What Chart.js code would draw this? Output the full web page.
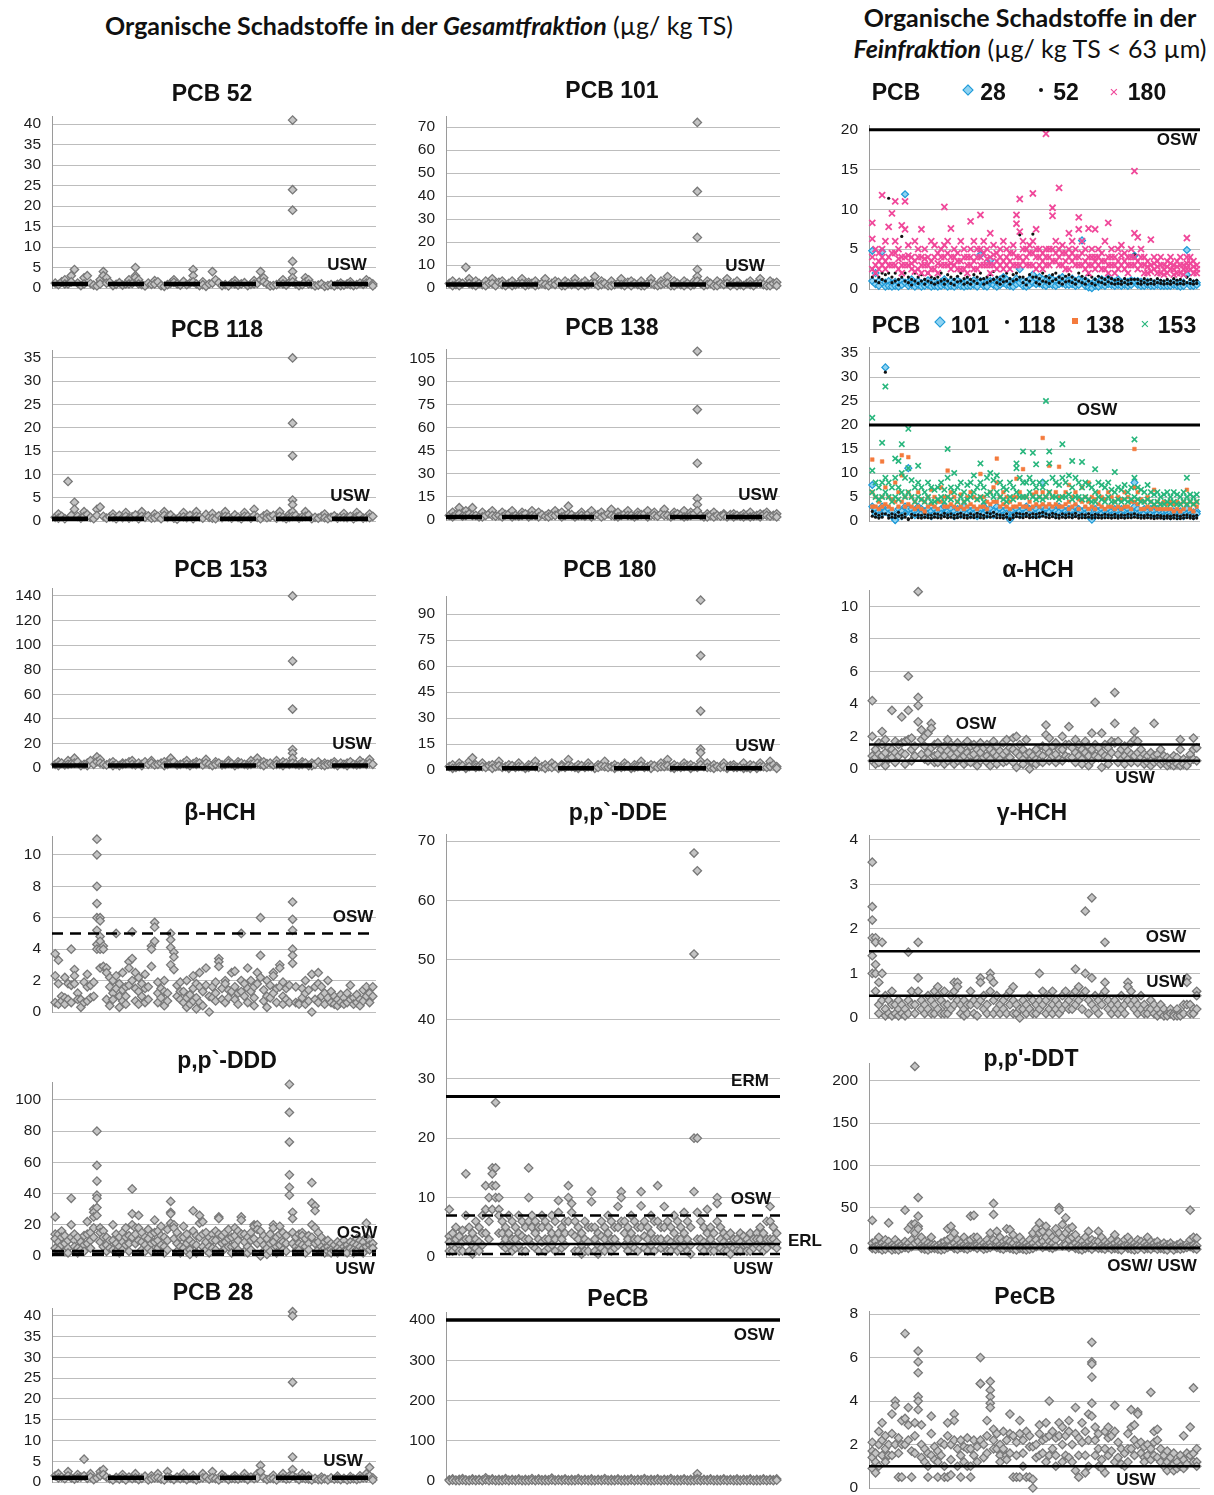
<!DOCTYPE html>
<html><head><meta charset="utf-8">
<script src="https://cdn.jsdelivr.net/npm/chart.js@4.4.1/dist/chart.umd.min.js"></script>
<style>
body{margin:0;background:#fff;width:1214px;height:1495px;overflow:hidden;position:relative;font-family:"Liberation Sans",Arial,sans-serif;color:#111}
.t{position:absolute;transform:translate(-50%,-50%);font-weight:bold;font-size:23px;white-space:nowrap;z-index:2}
.h{position:absolute;transform:translate(-50%,-50%);font-family:Lato,"Open Sans",sans-serif;font-size:25px;white-space:nowrap;z-index:2}
.h b{font-weight:700}
canvas{position:absolute;z-index:1}
.mk{position:absolute;z-index:2}
</style></head><body>

<div class="h" style="left:419px;top:25px"><b>Organische Schadstoffe in der <i>Gesamtfraktion</i></b> (µg/ kg TS)</div>
<div class="h" style="left:1030px;top:17px"><b>Organische Schadstoffe in der</b></div>
<div class="h" style="left:1030px;top:48px"><b><i>Feinfraktion</i></b> (µg/ kg TS &lt; 63 µm)</div>

<script>
// ---------- DATA (one entry per station; arrays = several samples at the same station) ----------
const pcb52Gesamt = [
1.2,0.8,1.5,[2,1],1.0,[3,1.5],4.5,1.2,0.6,[2.5,1],
3.0,1.1,0.7,0.5,[2,1],[4,3],[2.5,1.2],1.4,0.6,0.9,
1.3,0.7,1.0,[2,1],1.1,[5,3,2.5],[2,1],0.8,0.5,1.2,
0.9,[1.8,1],1.5,0.6,0.4,0.8,1.2,[2,1.4],1.0,0.7,
1.6,0.8,1.2,[4.5,3,1.5],1.0,0.6,[1.5,0.8],0.4,1.0,[4,1.2],
2.0,1.3,0.6,0.8,0.5,1.2,[1.8,1],0.7,1.0,1.3,
0.6,0.9,[1.8,1],1.1,[4,2],[2.5,1.5],1.0,0.5,0.6,0.8,
1.2,[2,1],0.7,1.3,[41,24,19,6.5,4,2.5,1.5],1.0,0.6,0.8,[2.5,1.5],[2,1],
0.9,0.5,0.7,1.0,0.4,0.6,0.8,0.5,0.9,[1.2,0.6],
0.7,1.0,[1.5,0.8],0.6,0.8,1.2,0.9,[2,1.2],1.5,[1,0.5]];

const pcb118Gesamt = [
0.8,[1.5,0.6],1.0,0.5,8.5,1.2,[4,2.5],1.0,0.6,[2,1],
1.4,0.8,0.5,[2.5,1.2],3.0,1.0,0.6,0.9,[1.5,0.8],0.5,
1.2,0.7,[1.8,1],0.6,0.9,1.3,0.5,[2,1],0.8,1.1,
0.6,[1.5,0.7],1.0,0.5,[2,1.2],0.8,1.3,0.6,0.4,1.0,
[1.8,0.9],0.7,1.2,0.5,[2,1],0.9,0.6,1.4,0.8,[1.6,0.6],
0.5,1.1,0.7,[2,1],0.9,0.6,1.3,0.8,0.5,[1.8,1],
1.0,0.6,[2.5,1.2],0.8,0.5,1.1,[1.5,0.7],0.9,1.2,0.6,
[2,1],0.8,0.5,[1.5,0.8],[35,21,14,4.5,3.5,2,1],1.2,0.6,0.9,[2,1],1.3,
0.5,0.8,0.6,1.0,[1.5,0.7],0.5,0.8,1.1,0.6,0.9,
[1.6,0.8],0.7,1.0,0.5,[1.8,0.9],1.2,0.6,0.8,[1.5,0.7],1.0];

const pcb153Gesamt = [
3,[5,2],4,2.5,[6,3],3.5,[8,4],5,2,3,
[4,2],6,3,[9,5],[7,4],3,2.5,4,[5,2],3,
2,[4,3],3.5,5,[6,3],2.5,4,[3,2],5,3,
[6,4],2.5,3,4,[5,2],3,[8,4],5,2.5,3,
4,[6,3],2,3.5,[5,3],4,2.5,[7,4],3,2,
[5,3],4,2.5,3,[6,4],3.5,2,[5,3],4,3,
2.5,[6,3],4,[8,4],3,[5,2],3.5,4,2.5,[6,3],
3,[5,2],4,3,[140,87,48,15,12,8,4],3,2.5,[5,3],4,2,
[4,2],3,5,2.5,[4,2],3,3.5,[5,3],2,4,
3,[4,2],5,3,2.5,[6,3],4,3,[7,4],3];

const betaHCH = [
[3.7,2.3,0.6],[3.3,1.8,0.5],[1.0,0.7],[2.2,0.9,0.5],[1.8,0.8],[4.0,1.7,0.6],[2.7,2.3,1.8],[1.2,0.8],[0.8,0.3],[1.9,0.6],
[2.4,1.6,0.7],[1.7,0.9],[1.9,1.0],[11,10,8,6.9,6,5.2,4.3,4],[6,5.8,4.8,4.5,4.0,2.8],[4.2,4.0,2.9],[2.8,2.5,0.8],[2.2,1.6,0.4],[2.0,1.2,0.8],[5.0,2.3,1.5],
[1.8,1.0,0.3],[2.5,1.4,0.7],[1.6,1.0,0.5],[3.2,2.8,1.7],[5.1,3.4,2.0],[2.5,1.5,0.7],[2.2,1.3,0.5],[1.8,1.0],[2.4,1.5,0.6],[1.6,0.8],
[4.2,4.0,2.9],[5.7,5.4,4.5],[1.9,1.2,0.6],[1.5,0.9],[2.0,1.3,0.4],[1.2,0.7],[5.0,4.6,4.1,3.0],[3.8,3.5,2.7],[1.7,1.0],[1.9,1.3,0.8],
[1.3,0.6],[2.0,0.9,0.3],[1.1,0.5],[2.3,1.5,0.7],[1.8,0.9,0.2],[2.5,1.6,0.6],[1.3,0.4],[2.8,1.7],[1.0,0.0],[1.6,0.9],
[1.9,1.2,0.7],[3.4,3.2,2.9],[1.5,0.8],[2.0,1.8,0.6],[1.4,0.9],[2.5,1.3],[2.6,1.6,0.8],[1.2,0.5],[5.0,2.0,1.3],[1.8,1.0],
[2.8,1.5,0.6],[2.0,1.3],[1.6,0.9,0.4],[2.5,1.8],[6.0,3.6,2.2],[1.4,0.7],[2.0,1.0,0.3],[1.7,0.9],[2.5,2.3,1.2],[1.5,0.6],
[3.0,2.8,1.6],[1.9,1.0,0.5],[1.5,0.8],[1.7,0.6],[7.0,5.9,5.2,4.0,3.6,3.1],[1.6,0.6],[0.6,0.5],[1.5,0.9],[2.0,1.2,0.5],[1.4,0.7],
[2.4,0.0],[1.6,0.8],[2.5,1.8,0.6],[1.6,1.0],[1.2,0.5],[2.0,0.9],[1.3,0.6],[1.0,0.5],[0.8,0.4],[1.1,0.6],
[0.9,0.5],[1.2,0.6],[1.7,0.8],[0.9,0.5],[1.1,0.6],[0.8,0.4],[1.4,0.7],[1.6,1.0],[1.2,0.6],[1.6,1.0]];

const ppDDD = [
[25,14,11,5],[14,9,4],[16,12,7],[13,8,3],[10,5,2],[37,20,12],[14,10,6],[12,5,2],[9,4],[13,7,3],
[22,14,8],[15,10,5],[30,28,25,18,12],[80,58,48,39,37,31,26],[18,15,9],[16,12,6],[12,7,3],[10,5],[20,10,4],[14,8,3],
[12,6,2],[15,9,4],[18,12,7],[13,8,3],[43,27,20,12],[18,14,8],[26,18,10],[15,9,4],[12,7,3],[17,11,5],
[14,8,3],[23,15,9],[16,10,5],[19,13,7],[12,6,2],[17,10,4],[35,28,27,21],[20,18,11],[15,8,3],[12,6,2],
[19,12,5],[14,8,3],[10,4,1],[29,16,8],[13,7,2],[26,21,12],[22,14,6],[15,9,4],[12,6,2],[14,10,5],
[16,10,4],[25,24,14],[13,8,3],[15,9,5],[17,11,6],[12,6,2],[18,13,7],[16,10,4],[25,23,14],[14,9,3],
[12,6,2],[15,10,4],[20,19,11],[20,17,8],[16,10,0],[13,7,3],[11,5,1],[14,8,3],[20,18,9],[12,6,2],
[19,14,7],[15,9,4],[13,8,3],[110,92,73,52,44,39],[28,24,15,8],[12,6,3],[14,8,4],[15,13,7],[11,6,2],[13,8,4],
[47,34,20,12],[32,29,18,8],[15,9,4],[12,6,3],[9,5,2],[10,6,3],[8,4,2],[7,3],[9,5,2],[8,4],
[10,6,3],[7,4,2],[9,5],[8,4,2],[11,7,3],[10,6],[9,5,2],[21,12,6],[10,7,4],[8,5]];

const pcb28Gesamt = [
1.5,[2,1],1.2,0.8,[2.5,1.5],1.0,0.7,[1.8,1],1.2,[5.5,1.5],
0.9,[2,1.2],0.6,1.0,[2.5,1.5],[3,1.8],1.2,0.8,0.5,1.1,
0.7,[1.8,1],0.5,1.2,0.8,[2,1],0.6,0.9,1.4,0.5,
[1.5,0.8],1.0,[2,1],0.7,0.5,[2.5,1.2],0.9,0.6,1.2,0.8,
[2,1],0.6,1.0,[1.6,0.8],0.5,0.9,[2,1],1.2,0.7,[2.5,1],
0.8,0.5,[1.8,1],1.1,0.6,0.9,[1.5,0.8],0.7,1.0,[2,1],
0.6,1.2,0.8,[2,1],[4,2.5],1.0,0.6,0.9,[1.6,0.8],0.5,
1.1,[2,1],0.7,[1.5,0.8],[41,40,24,6,3,1.5],1.0,0.6,[2,1],0.8,[1.5,0.7],
0.5,0.9,0.6,[1.2,0.6],0.8,0.5,1.0,0.7,[1.4,0.8],0.6,
0.9,0.5,[1.3,0.7],0.8,0.6,[1.5,0.8],1.0,[2,1],[3.5,1.5],[1,0.5]];

const pcb101Gesamt = [
2,[3,1],1.5,[2.5,1],2,9,[4,2],1.5,[3,1],2,
1.5,[3,1],2,[4,2],1,2.5,[3,1.5],1,2,[3,1],
1.5,2,[4,2],1,[2.5,1.5],2,[3,1],1.5,2,[4,1.5],
1,2,[3,1.5],2.5,1,[3,1],2,1.5,[4,2],1,
2,[3,1],1.5,2,[5,2],1,[3,1.5],2,1,[3,1],
1.5,2,[4,1.5],1,2.5,[3,1],2,1.5,[3,1],1,
2,[4,2],1.5,1,[3,1.5],2,[5,2],1,[3,1],2,
1.5,[3,1],2,1,[3,1.5],[72,42,22,8,5,3],2,1,[3,1.5],2,
1,[3,1],2,1.5,[4,2],1,2,[3,1],1.5,1,
2,[3,1.5],1,2,[4,2],1.5,1,[3,1],2,[2.5,1]];

const pcb138Gesamt = [
3,[5,2],3.5,[8,4],2.5,[6,3],4,[8,3],3,2,
[5,2],3,4,[6,3],2.5,3,[5,2],3.5,4,[6,2],
3,2.5,[5,3],4,2,[6,3],3,[5,2],3.5,2.5,
[4,2],3,[6,3],4,[5,2],3,[9,4],3.5,2,3,
[5,3],2.5,4,[6,2],3,3.5,[5,2],3,4,[7,3],
2.5,[5,2],3,4,[6,3],3,2,[5,3],3.5,4,
[6,2],3,[5,3],2.5,4,[7,3],3,2,[5,3],4,
3,[6,2],2.5,[5,3],4,[110,72,37,14,10,6],3,2,[4,2],3,
[5,2],3,2.5,[4,3],2,3.5,[4,2],3,2.5,[4,2],
3,[5,2],2.5,3,[4,2],3.5,[5,3],2.5,3,[4,2]];

const pcb180Gesamt = [
2,[3,1],1.5,[4,2],2.5,1,[5,2],7,[3,1.5],2,
[4,2],1.5,2.5,[3,1],2,[5,2.5],1.5,2,[3,1],2.5,
1.5,[4,2],2,1,[3,1.5],2.5,[5,2],1.5,2,[3,1],
2,[4,1.5],2.5,1,[3,2],1.5,[6,2.5],2,1.5,[3,1],
2.5,1.5,[4,2],2,1,[3,1.5],2.5,[5,2],1.5,2,
[3,1],2,1.5,[4,2],2.5,1,[3,1.5],2,[5,2.5],1.5,
2,[3,1],2.5,1.5,[4,2],2,[6,2.5],1.5,[3,1],2,
1.5,[4,2],2.5,[3,1],2,1.5,[98,66,34,12,10,5,3],2,[4,1.5],1.5,
[3,1],2,1.5,[4,2],1,2.5,[3,1.5],1.5,2,[4,1],
1.5,[3,1],2.5,1,[4,2],2,1.5,[5,2],3,[2,1]];

const ppDDE = [
[8,3.5,2.5,1],[4,2,1],[5,3,1.5],[3.5,2,1],[4.5,2.5,1],[14,7,3],[5,3,1],[4,2,0.5],[6,3,1.5],[5,2.5,1],
[7,4,2],[12,8,4],[10,6,3],[15,14,12,8],[26,15,12,10],[10,8,7,4],[6,4,2],[5,3,1.5],[7,4,2],[6,3,1],
[5,3,1.5],[7,4,2],[6,3.5,1],[5,3,1],[15,10,6,3],[7,5,2],[6,4,1.5],[5,3,1],[7,5,2.5],[6,3,1],
[5,3,1.5],[7,4,2],[6,3,1],[9.5,7.5,4],[5,3,1.5],[6,4,2],[12,10,6],[9,7.5,4],[6,3.5,1],[5,3,1],
[4,2,0.5],[6,3,1],[5,2.5,1],[11,9.3,5],[5,3,1],[4,2,0.5],[6,3.5,1.5],[5,3,1],[7,4,2],[6,3,1],
[5,3,1.5],[8.5,5,2],[11,10,6],[6,4,2],[5,3,1],[7,4,2],[6,3,1.5],[5,3,1],[11,8.6,5],[6,3.5,1.5],
[5,3,1],[7,4,2],[6,3,1],[12,6,3],[5,3,1.5],[8.5,5,2],[6,3,1],[5,2.5,1],[7,4,2],[6,3,1],
[5,3,1.5],[7.5,4,2],[6,3,1],[5,2,0.5],[68,51,20,11],[65,20,7.5,3],[6,3,1.5],[5,2.5,1],[8,4,2],[5,3,1],
[4,2,1],[10,9,6],[5,3,1.5],[4,2.5,1],[3.5,2,1],[4,2,0.5],[3,1.5],[3,2,1],[4,2.5,1],[3.5,2],
[3,2,1],[4,2.5,1],[3,1.5],[4,3,2],[5,3,1.5],[4,2,1],[6,3,1.5],[8.5,6,3],[5,3,2],[4,2.5,1.5]];

const pecbGesamt = [
[3,1],[5,2],[2,1],[4,1],[6,2],[3,1],[2,1],[5,2],[3,1],[4,2],
[2,1],[8,3],[3,1],[5,2],[2,1],[4,1],[3,1],[6,2],[2,1],[4,2],
[3,1],[5,2],[2,1],[4,1],[3,1],[6,2],[2,1],[5,2],[3,1],[4,1],
[3,1],[7,2],[2,1],[4,2],[3,1],[5,2],[2,1],[4,1],[3,1],[6,2],
[2,1],[4,2],[3,1],[5,1],[2,1],[4,2],[3,1],[6,2],[2,1],[4,1],
[3,1],[5,2],[2,1],[4,1],[3,1],[5,2],[2,1],[4,2],[3,1],[6,2],
[2,1],[4,1],[3,1],[5,2],[2,1],[4,2],[3,1],[6,2],[2,1],[4,1],
[3,1],[5,2],[2,1],[4,1],[3,1],[18,6,2],[2,1],[4,2],[3,1],[5,2],
[2,1],[4,1],[3,1],[5,2],[2,1],[4,2],[3,1],[5,1],[2,1],[4,2],
[3,1],[5,2],[2,1],[4,1],[3,1],[5,2],[2,1],[4,2],[3,1],[5,2]];

// Feinfraktion
const pcb28Fein = [
[4.8,1],[2,0.6],[1,0.4],[4.7,0.8],[0.8,0.3],[1,0.4],[0.7,0.3],[0.9,0.4],[0.8,0.3],[1,0.5],
[11.9,0.8],[0.9,0.4],[1.2,0.5],[0.8,0.3],[1,0.5],[0.7,0.3],[0.9,0.4],[1.1,0.5],[0.8,0.3],[1,0.4],
[0.7,0.3],[0.9,0.4],[1.2,0.5],[0.8,0.3],[1,0.4],[0.9,0.3],[1.1,0.5],[0.8,0.4],[0.7,0.3],[1,0.4],
[0.9,0.4],[1.1,0.5],[0.8,0.3],[4.3,1],[1,0.4],[0.9,0.3],[3.6,1],[1,0.5],[0.8,0.3],[1.2,0.5],
[1.5,0.8],[1.2,0.5],[1,0.4],[0.9,0.3],[1.3,0.6],[2.5,0.8],[1,0.4],[0.9,0.3],[1.2,0.5],[1.8,0.8],
[1.3,0.6],[1.5,0.7],[1.2,0.5],[1,0.4],[1.4,0.6],[1.2,0.5],[1,0.4],[1.3,0.6],[1.5,0.7],[1.2,0.5],
[1.1,0.5],[1.3,0.6],[1,0.4],[1.2,0.5],[6.1,1],[1.1,0.4],[0.8,0.2],[0.5,0.1],[1,0.4],[0.8,0.3],
[1.2,0.5],[1,0.4],[1.3,0.6],[1.1,0.5],[0.9,0.4],[1.2,0.5],[0.8,0.4],[1,0.5],[0.9,0.4],[1.1,0.5],
[4.2,1],[1,0.5],[0.9,0.4],[0.8,0.4],[0.9,0.5],[0.8,0.4],[0.7,0.4],[0.9,0.5],[0.8,0.4],[0.7,0.4],
[0.8,0.4],[0.7,0.4],[0.9,0.5],[0.8,0.4],[0.7,0.3],[0.8,0.4],[4.9,1.8],[0.8,0.4],[0.7,0.4],[0.8,0.5]];

const pcb52Fein = [
[2.5,1.5],[2,1],[1.5,0.8],[2,1.2],[1.8,1],[11.4,2],[1.5,0.8],[2,1],[1.2,0.5],[6.6,1.5],
[2,1],[1.5,0.8],[1.2,0.5],[2,1],[1.5,0.7],[1.8,1],[1.2,0.6],[2,1],[1.5,0.8],[1.3,0.6],
[1.5,0.8],[2,1],[1.2,0.6],[1.8,1],[1.5,0.7],[1.2,0.5],[1.6,0.9],[2,1],[1.3,0.6],[1.5,0.8],
[1.2,0.6],[1.8,1],[1.5,0.7],[2,1.2],[1.3,0.6],[1.5,0.8],[1.8,1],[2.2,1.2],[1.5,0.8],[1.2,0.6],
[1.6,0.9],[2,1],[1.3,0.6],[1.8,1],[2,1.2],[6.8,1.5],[1.5,0.8],[1.2,0.5],[1.8,1],[6.9,1.5],
[1.5,0.8],[1.3,0.6],[2,1],[1.6,0.9],[1.4,0.7],[1.8,1],[2,1.2],[1.5,0.8],[1.3,0.6],[1.6,0.9],
[1.8,1],[1.5,0.8],[1.2,0.6],[2,1],[1.6,0.8],[1.3,0.6],[1.8,1],[1.5,0.7],[1.2,0.5],[1.6,0.9],
[1.4,0.8],[1.2,0.6],[1.5,0.9],[1.3,0.7],[1.1,0.6],[1.2,0.7],[1.0,0.6],[1.3,0.8],[1.1,0.6],[1.2,0.7],
[4.3,1.2],[1.2,0.7],[1.0,0.6],[1.3,0.8],[1.1,0.6],[1.2,0.7],[1.0,0.6],[1.3,0.8],[1.1,0.7],[1.0,0.6],
[1.2,0.7],[1.0,0.6],[1.3,0.8],[1.1,0.6],[1.2,0.7],[1.0,0.6],[1.5,0.8],[1.2,0.7],[1.0,0.6],[1.1,0.7]];

const pcb180Fein = [
[8.3,6.3,4,2.5],[5,3,2],[4.5,2.5,3.5],[11.8,5,3,4],[6,3.5,2.5],[7.8,4,3],[9.5,4.5,3],[11,6,3,4.5],[5,2.5,3.8],[8,4,2,3],
[11,7.5,4,3],[5.5,3,4.2],[4,2.5,3.2],[6,3.5,2.2],[5,2.5,4],[7.5,4,2,3],[5,3,3.8],[4,2,3],[6,3.5,2.5],[5.5,2.5,4],
[4.5,2,3.2],[5,3,4],[10.3,5.5,3,4],[6,3,4.5],[7.6,4,2.5,3.2],[5,3,4],[4.5,2.5,3.5],[6,3.5,2.5],[5,2.5,4],[4,2,3],
[8.5,5,3,4],[6,3.5,2.5],[5,2.5,4],[9.3,5,3,4],[6,3,4.5],[5,3,3.8],[7,4,2,3],[5.5,3,4.3],[4.5,2.5,3.5],[5,3,4],
[6,3.5,2.5],[5,3,4],[4.5,2.5,3.5],[5.5,3,4.5],[9.3,8.2,4,3],[11.3,7.2,4,3],[6,3.5,5],[5,3,4],[5.5,3,4.5],[12,6,3,4.5],
[7.5,4,2.5,5],[5,3,4],[4.5,2.5,3.5],[19.5,5,3,4],[5,3,4],[10.2,9.2,5,3.5],[6,3.5,4.5],[12.7,5,3,4],[5.5,3,4.5],[4.5,2.5,3.5],
[7,4,2.5,5],[6,3.5,4.5],[5,3,4],[9,7.5,4,3],[6,3,4.5],[5,2.5,3.5],[7.6,4,2,3],[5,3,4],[7.5,4,2.5,3.5],[5,3,4],
[4.5,2.5,3.5],[6,3.5,2.5],[8.3,4,2,3],[5,3,4],[4,2,3],[5,2.5,3.5],[5.5,3,4.2],[4.5,2.5,3.5],[4,2,3],[5,3,4],
[14.8,7,4,3],[6.5,3.5,2.5],[5,3,4],[4,2,3],[3.5,2,2.8],[6.2,3,2.2],[4,2.5,3.2],[3.5,2,2.8],[4,2,3],[3,1.8,2.5],
[3.5,2,2.8],[4,2.5,3.2],[3,1.8,2.5],[3.5,2,2.8],[4,2,3],[3,1.8,2.5],[6.4,4,2.5,3.2],[4,2.5,3.2],[3.5,2,2.8],[3,2,2.5]];

const pcb101Fein = [
[7.5,3],[2.5,1.5],[2,1.2],[3,1.5],[32,2],[2.5,1.5],[2,1],[0.3,0.2],[2.5,1.5],[2,1],
[3,1.5],[11,2.5],[2.5,1.5],[2,1.2],[3,1.5],[2.5,1.5],[2,1.2],[2.5,1.5],[2,1],[2.5,1.5],
[2,1.2],[2.5,1.5],[3,1.5],[2,1.2],[2.5,1.5],[2,1],[2.5,1.5],[2,1.2],[3,1.5],[2.5,1.5],
[2,1.2],[2.5,1.5],[2,1],[2.5,1.5],[3,1.5],[2,1.2],[2.5,1.5],[2,1.2],[3,1.8],[2.5,1.5],
[2,1.2],[2.5,1.5],[0.5,0.3],[2,1.2],[2.5,1.5],[2,1.2],[2.5,1.5],[3,1.8],[2.5,1.5],[2,1.2],
[2.5,1.5],[2,1.2],[8,3],[2.5,1.5],[3,1.8],[2.5,1.5],[2,1.2],[3,1.8],[2.5,1.5],[2,1.2],
[2.5,1.5],[2,1.2],[3,1.5],[2.5,1.5],[2,1.2],[2.5,1.5],[2,1],[0.5,0.3],[2.5,1.5],[2,1.2],
[2.5,1.5],[2,1.2],[2.5,1.5],[2,1.2],[2.5,1.5],[2,1.2],[2.5,1.5],[2,1.2],[2.5,1.5],[2,1.2],
[8,3],[2.5,1.5],[2,1.2],[2.5,1.5],[2,1.2],[2.5,1.5],[2,1.2],[2.5,1.5],[2,1.2],[1.8,1],
[2,1.2],[1.8,1],[2,1.2],[1.8,1],[2,1.2],[1.8,1],[2.5,1.5],[2,1.2],[1.8,1],[2,1.5]];

const pcb118Fein = [
[2,1],[1.5,0.8],[1.2,0.6],[1.5,0.8],[31,1.5],[1.2,0.6],[1.5,0.8],[1.3,0.7],[1.8,1],[1.2,0.6],
[1.5,0.8],[0.5,0.3],[1.4,0.7],[2.5,1.2],[1.3,0.7],[1.2,0.6],[1.5,0.8],[1.3,0.7],[1.2,0.6],[1.5,0.8],
[1.4,0.7],[1.2,0.6],[1.6,0.9],[1.3,0.7],[1.5,0.8],[1.2,0.6],[1.4,0.7],[1.6,0.9],[1.3,0.7],[1.2,0.6],
[1.5,0.8],[1.3,0.7],[1.6,0.9],[1.4,0.7],[1.2,0.6],[1.7,0.9],[1.5,0.8],[1.8,1],[1.4,0.7],[1.3,0.7],
[1.2,0.6],[1.5,0.8],[0.5,0.3],[1.3,0.7],[1.6,0.9],[1.5,0.8],[1.4,0.7],[1.6,0.9],[1.3,0.7],[1.5,0.8],
[1.4,0.7],[1.6,0.9],[1.8,1],[1.5,0.8],[1.3,0.7],[1.6,0.9],[1.4,0.7],[1.2,0.6],[1.5,0.8],[1.3,0.7],
[1.5,0.8],[1.3,0.7],[1.6,0.9],[1.2,0.6],[1.4,0.7],[1.3,0.7],[1.5,0.8],[1.2,0.6],[1.4,0.7],[1.3,0.7],
[1.2,0.6],[1.4,0.7],[1.3,0.7],[1.2,0.6],[1.4,0.7],[1.1,0.6],[1.3,0.7],[1.2,0.6],[1.4,0.7],[1.3,0.7],
[1.5,0.8],[1.3,0.7],[1.2,0.6],[1.1,0.6],[1.3,0.7],[1.2,0.6],[1.0,0.5],[1.2,0.6],[1.1,0.6],[1.0,0.5],
[1.1,0.6],[1.0,0.5],[1.2,0.6],[1.1,0.5],[1.0,0.5],[1.2,0.6],[1.3,0.7],[1.1,0.6],[1.0,0.5],[1.2,0.6]];

const pcb138Fein = [
[12.8,6,3],[5,3],[4,2.5],[12.4,5,3],[7,3.5],[5,3],[4.5,2.5],[8,4],[6,3],[13.7,9.5,4],
[5,3],[13.3,6,3.5],[5,3],[4,2.5],[6,3],[4.5,2.5],[4,2],[5,3],[6.5,3.5],[5,3],
[4,2.5],[7,4],[5,3],[10.5,5,3],[6,3.5],[5,3],[4,2.5],[5.5,3],[4,2.5],[5,3],
[6,3.5],[5,3],[4.5,2.5],[9.8,5,3],[5,3],[4,2.5],[6,3.5],[7,4],[13,8,4],[5,3],
[6,3.5],[5,3],[4,2.5],[5,3],[8.8,5,3],[6,3.5],[10.8,5,3],[5,3],[4,2.5],[5.5,3],
[6,3.5],[5,3],[17.3,6,3.5],[5,3],[11.5,6,3.5],[5,3],[6,3.5],[11.3,5,3],[5,3],[6,3.5],
[7.5,4,2.5],[5,3],[6,3.5],[4.5,2.5],[7,4],[5,3],[8,4,2.5],[5,3],[4.5,2.5],[6,3.5],
[5,3],[4.5,2.5],[6,3],[5,3],[4,2.5],[5,3],[4.5,2.5],[6,3],[5,3],[4,2.5],
[15,7,4],[6,3.5],[4.5,2.5],[4,2.5],[5,3],[4,2.5],[6.5,3],[4,2.5],[3.5,2.5],[4,2.5],
[3.5,2.5],[4,2.5],[3.5,2],[4,2.5],[3.5,2],[4,2.5],[6.5,3.5],[4,2.5],[3.5,2],[4,3]];

const pcb153Fein = [
[21.5,10.5,6],[8,5],[7,4.5],[16.3,8,5],[28,9,6],[8,5],[7,4],[13,9,5],[12.5,7,4.5],[16,10,6],
[9,5],[19.2,11,6],[8.5,5],[7,4],[11.5,8,5],[7,4.5],[6,4],[8,5],[7,4],[6.5,4],
[7,4.5],[8,5],[6.5,4],[15,9,5],[7,4.5],[10,6],[7,4],[8,5],[6,4],[7.5,4.5],
[8,5],[9.5,6],[7,4.5],[12,8,5],[7,4],[9,5.5],[10,6],[8.5,5],[9.5,6],[8,5],
[7,4.5],[6.5,4],[8,5],[7,4.5],[12,11,6],[9,5],[14.5,8,5],[8,5],[9,6],[14.2,8,5],
[11.8,7,4.5],[8,5],[7,4.5],[25,8,5],[14.5,12,6],[9,5],[8,5],[7.5,4.5],[16,9,5],[8,5],
[9.5,5.5],[12.5,7,4.5],[9,5],[8,5],[12.3,7,4.5],[8,5],[7.5,4.5],[7,4],[10.8,6,4],[8,5],
[7.5,4.5],[7,4],[8,5],[6.5,4],[10.2,6,4],[7,4.5],[6.5,4],[7.5,4.5],[6,4],[7,4.5],
[17,9,5],[7,4.5],[6.5,4],[6,4],[7.5,4.5],[6,4],[5.5,3.5],[6,4],[5,3.5],[5.5,3.5],
[6,4],[5,3.5],[6,4],[5.5,3.5],[5,3.5],[6,4],[9,5,3.5],[5.5,4],[5,3.5],[5.5,4]];

const alphaHCH = [
[4.2,2,0.8,0.5],[1.2,0.7,0.3],[1.6,0.9,0.4],[2.3,1.5,0.8],[1.8,1.0,0.2],[1.3,0.6],[3.6,1.2,0.7],[1.7,1.0,0.4],[1.5,0.8],[3.2,1.6,1.0],
[1.7,0.9,0.3],[5.7,3.6,1.8],[1.9,1.2,0.5],[1.4,0.8],[10.9,4.4,3.9,2.9],[2.4,1.8,0.9],[2.0,1.4,0.6],[2.2,1.0,0.5],[2.8,2.5,1.3],[1.5,0.8,0.4],
[1.6,0.9,0.4],[1.2,0.6],[1.4,0.8,0.3],[1.8,1.1,0.5],[1.5,0.9],[1.3,0.7,0.3],[1.6,1.0,0.5],[1.2,0.6],[1.5,0.8,0.3],[1.7,1.0,0.5],
[1.4,0.8,0.4],[1.5,0.9],[1.2,0.6,0.2],[1.6,1.0,0.5],[1.3,0.7],[1.5,0.8,0.4],[1.2,0.6,0.2],[1.7,1.0],[1.4,0.8,0.3],[1.1,0.6],
[1.6,0.9,0.4],[1.8,1.1,0.5],[1.3,0.7],[1.9,1.2,0.4],[2.0,1.0,0.1],[1.5,0.8],[1.2,0.6,0.3],[1.8,0.9],[1.0,0.5,0.0],[0.8,0.4],
[1.2,0.6,0.3],[0.9,0.5],[1.4,0.8,0.4],[2.7,2.1,1.3],[1.9,1.0,0.5],[1.4,0.8],[1.6,0.9,0.4],[1.2,0.6],[2.0,1.2,0.5],[1.5,0.8],
[2.6,1.5,0.7],[1.3,0.7],[1.8,1.0,0.4],[1.5,0.8],[1.2,0.6,0.3],[1.7,1.0],[1.4,0.8,0.2],[2.2,1.2,0.5],[4.1,1.5,0.8],[1.3,0.7],
[2.2,1.0,0.1],[1.5,0.8],[1.3,0.7,0.3],[1.7,1.0],[4.7,2.8,1.6],[1.7,0.9,0.4],[1.2,0.6],[1.4,0.8,0.3],[1.1,0.6],[1.6,0.9,0.4],
[2.3,1.8,0.8],[1.7,1.0,0.4],[1.2,0.7],[0.9,0.5,0.3],[0.8,0.4],[1.0,0.5,0.2],[2.8,0.8,0.4],[0.9,0.5],[1.2,0.6,0.3],[0.8,0.4],
[0.7,0.4,0.2],[0.6,0.3],[0.8,0.4,0.2],[0.7,0.3],[1.8,1.2,0.2],[0.6,0.3],[0.5,0.2],[0.9,0.5],[1.9,1.2,0.6],[1.3,0.5]];

const gammaHCH = [
[3.5,2.5,2.2,1.8,1.4,1.0],[1.8,1.7,1.2,1.0,0.6],[0.8,0.3,0.1],[1.7,1.0,0.4],[0.5,0.2,0.05],[0.4,0.1],[0.6,0.3,0.05],[0.3,0.1],[0.4,0.2,0.05],[0.3,0.1],
[0.2,0.05],[1.48,0.4,0.1],[0.6,0.3],[0.3,0.1],[1.7,0.9,0.6],[0.4,0.2],[0.3,0.1],[0.5,0.2],[0.4,0.1],[0.6,0.3,0.1],
[0.7,0.5,0.2],[0.4,0.1],[0.6,0.3,0.1],[0.3,0.1],[0.5,0.2],[0.8,0.6,0.3],[0.8,0.7,0.4],[0.3,0.1],[0.4,0.2,0.05],[0.3,0.1],
[0.6,0.3],[0.4,0.1],[0.3,0.05],[0.9,0.8,0.4],[0.5,0.2],[0.3,0.1],[1.0,0.9,0.6],[0.8,0.4,0.1],[0.5,0.2],[0.3,0.1],
[0.4,0.2],[0.5,0.1],[0.6,0.3],[0.7,0.4,0.1],[0.3,0.1],[0.2,0.0],[0.4,0.2],[0.3,0.1],[0.5,0.2],[0.4,0.1],
[0.3,0.1],[1.0,0.4,0.2],[0.6,0.3],[0.4,0.1],[0.5,0.2],[0.6,0.3,0.1],[0.4,0.2],[0.3,0.1],[0.5,0.2],[0.6,0.3],
[0.4,0.2],[0.5,0.2],[1.1,0.6,0.3],[0.7,0.4],[0.5,0.2],[2.4,1.0,0.6],[0.4,0.1],[2.7,0.9,0.3],[0.5,0.2],[0.4,0.1],
[0.5,0.3],[1.7,0.8,0.6],[0.4,0.2],[0.3,0.1],[0.4,0.2],[0.3,0.1],[0.5,0.2],[0.3,0.1],[0.8,0.7,0.4],[0.6,0.3],
[0.4,0.2],[0.3,0.1],[0.5,0.2],[0.3,0.1],[0.2,0.1],[0.4,0.2],[0.3,0.1],[0.2,0.05],[0.3,0.1],[0.2,0.05],
[0.1,0.05],[0.2,0.1],[0.1,0.05],[0.2,0.05],[0.1,0.05],[0.3,0.1],[0.9,0.8,0.3],[0.3,0.1],[0.2,0.1],[0.6,0.5,0.2]];

const ppDDT = [
[35,8,2],[10,4,1],[15,6,2],[8,3,0],[12,5,1],[32,10,3],[6,2,0],[12,5,1],[8,3,0],[6,2],
[47,10,3],[25,8,2],[30,12,4],[217,31,20,8],[62,40,28,25,10],[15,6,2],[10,4,1],[8,3,0],[15,6,2],[6,2],
[5,1],[8,3,0],[10,4,1],[25,12,3],[28,15,5],[20,8,2],[12,5,1],[8,3],[15,6,2],[10,4,1],
[40,12,3],[41,15,4],[15,6,2],[10,4],[8,3,1],[12,5,2],[20,8,3],[55,42,12],[22,10,3],[15,6,2],
[10,4,1],[25,12,3],[24,10,2],[18,8,1],[12,5,0],[15,6,2],[10,4,1],[8,3,0],[12,5,1],[20,8,2],
[25,12,4],[32,20,8],[22,10,3],[28,15,5],[20,10,3],[15,8,2],[25,12,4],[50,47,20],[30,15,5],[38,20,6],
[25,12,3],[27,15,5],[18,8,2],[12,5,1],[10,4,0],[15,6,2],[22,10,3],[12,5,1],[10,4],[22,10,2],
[15,6,2],[10,4,1],[8,3],[12,5,1],[18,8,2],[10,4,1],[8,3,0],[12,5],[15,6,2],[10,4,1],
[8,3,0],[12,5,1],[10,4],[8,3,1],[15,6,2],[10,4,1],[8,3],[10,4,1],[6,2],[8,3,1],
[6,2,0],[8,3],[5,2,0],[6,2],[8,3,1],[5,2],[7,3],[47,12,4],[15,6,2],[14,5,1]];

const pecbFein = [
[2.1,1.7,1.4,0.9],[1.6,1.2,0.7],[2.6,2.0,1.0],[3.0,2.2,1.5],[2.4,1.8,1.2],[2.0,1.5],[3.4,2.5,1.5],[4.0,3.8,2.0],[2.3,1.6,0.5],[3.1,2.0,0.5],
[7.1,3.2,2.0],[3.7,2.9,2.2],[1.7,0.5],[3.0,2.4,1.6],[6.3,5.8,5.3,4.2,4.0,3.6],[2.9,2.0,1.4],[1.8,1.2],[1.6,1.0,0.5],[3.3,2.5,1.5],[1.9,1.3],
[1.7,0.5,1.2],[2.1,1.5],[2.0,1.0,0.5],[3.0,2.4,0.5],[2.0,1.3,0.6],[3.4,3.1,2.2],[1.8,1.0],[2.2,1.5,0.5],[1.9,1.2],[2.3,1.8,1.0],
[1.8,1.0,0.5],[2.2,1.5],[1.9,1.2],[6.0,4.8,4.8,2.2],[2.0,1.4],[3.1,2.4,1.6],[4.9,4.5,4.2,3.9,3.7],[2.7,2.2,1.8],[2.5,1.8],[2.0,1.5,1.2],
[2.6,1.8],[2.2,1.5,1.3],[3.4,2.5,1.6],[2.4,0.5],[2.1,1.5,0.5],[3.1,2.5,0.5],[2.2,1.6,1.0],[2.6,0.5],[2.4,1.9,0.5],[1.9,0.4,0.0],
[2.0,1.4],[2.9,2.5,1.5],[2.2,1.6],[3.0,2.3,1.2],[4.0,2.4,1.5],[2.6,1.8],[2.3,1.5,1.0],[3.0,2.4],[2.8,2.0,1.2],[2.4,1.5],
[3.1,2.6,1.4],[2.0,1.2],[3.7,2.5,0.8],[2.3,1.5,0.5],[3.0,2.1],[2.6,1.5,0.7],[3.4,2.2,1.0],[6.7,5.8,5.7,5.1,3.9,3.3],[2.8,2.2,1.5],[2.5,1.8,1.0],
[1.3,0.9],[2.6,1.8,0.7],[2.8,2.3,1.5],[2.4,1.7],[3.8,2.6,1.2],[2.1,1.4],[1.8,1.1],[1.6,1.0],[2.5,1.8,1.2],[3.6,2.8,1.8],
[2.9,2.2,1.5],[3.5,3.4,2.0],[2.1,1.6],[1.9,1.4,1.2],[2.0,1.5],[4.4,1.8,1.3],[2.6,2.1,1.5],[2.7,2.2,1.4],[1.8,1.2],[1.5,1.0],
[1.7,1.2,0.8],[1.4,1.0],[1.6,1.1,0.8],[1.2,0.9],[1.5,1.0],[2.4,1.3,0.9],[1.6,1.1],[2.8,1.5],[4.6,1.6,1.2],[1.8,1.2,1.0]];

// guideline values (Richtwerte)
const uswPcb52 = 1, uswPcb118 = 0.5, uswPcb153 = 2, uswPcb28 = 1, uswPcb101 = 1.5, uswPcb138 = 2, uswPcb180 = 1;
const oswBetaHCH = 5, oswDDD = 3, uswDDD = 1;
const ermDDE = 27, oswDDE = 7, erlDDE = 2.2, uswDDE = 0.5;
const oswPeCB = 400, oswPcbFein = 20;
const oswAlphaHCH = 1.5, uswAlphaHCH = 0.5, oswGammaHCH = 1.5, uswGammaHCH = 0.5;
const oswUswDDT = 2.5, uswPeCBFein = 1;

// ---------- RENDERING ----------
const FONT = '"Liberation Sans", Arial, sans-serif';
const styles = {
  grey:  {ps:'rectRot', r:4.2, bg:'#c4c4c4', bc:'#787878', bw:1.3},
  blue:  {ps:'rectRot', r:3.5, bg:'#8fd3f2', bc:'#1e9ad8', bw:1.2},
  black: {ps:'circle',  r:1.6, bg:'#111',    bc:'#111',    bw:0},
  pink:  {ps:'crossRot',r:4.3, bg:'#f0489a', bc:'#f0489a', bw:1.8},
  orange:{ps:'rect',    r:2.6, bg:'#f47a3c', bc:'#f47a3c', bw:0.5},
  green: {ps:'crossRot',r:3.8, bg:'#27b67c', bc:'#27b67c', bw:1.6}
};
const dashL = [36,20], dashS = [11,7];

const panels = [
 {title:'PCB 52', tx:212, ty:93, ax:52, rx:376, top:116, y0:288, ymax:42, step:5,
  series:[{d:pcb52Gesamt,s:'grey'}], lines:[{v:uswPcb52,dash:dashL,w:4.5,label:'USW',lx:295,dy:-19}]},
 {title:'PCB 118', tx:217, ty:329, ax:52, rx:376, top:350, y0:521, ymax:36.7, step:5,
  series:[{d:pcb118Gesamt,s:'grey'}], lines:[{v:uswPcb118,dash:dashL,w:4.5,label:'USW',lx:298,dy:-22}]},
 {title:'PCB 153', tx:221, ty:569, ax:52, rx:376, top:588, y0:768, ymax:146.5, step:20,
  series:[{d:pcb153Gesamt,s:'grey'}], lines:[{v:uswPcb153,dash:dashL,w:4.5,label:'USW',lx:300,dy:-21}]},
 {title:'β-HCH', tx:220, ty:812, ax:52, rx:376, top:836, y0:1012, ymax:11.2, step:2,
  series:[{d:betaHCH,s:'grey'}], lines:[{v:oswBetaHCH,dash:dashS,w:2.5,label:'OSW',lx:301,dy:-16}]},
 {title:'p,p`-DDD', tx:227, ty:1060, ax:52, rx:376, top:1082, y0:1256, ymax:111.5, step:20,
  series:[{d:ppDDD,s:'grey'}], lines:[{v:oswDDD,dash:[12,8],w:3,label:'OSW',lx:305,dy:-18},{v:uswDDD,dash:[12,8],w:3,label:'USW',lx:303,dy:15}]},
 {title:'PCB 28', tx:213, ty:1292, ax:52, rx:376, top:1308, y0:1482, ymax:41.9, step:5,
  series:[{d:pcb28Gesamt,s:'grey'}], lines:[{v:uswPcb28,dash:dashL,w:4.5,label:'USW',lx:291,dy:-17}]},

 {title:'PCB 101', tx:612, ty:90, ax:446, rx:780, top:116, y0:288, ymax:74.8, step:10,
  series:[{d:pcb101Gesamt,s:'grey'}], lines:[{v:uswPcb101,dash:dashL,w:4.5,label:'USW',lx:299,dy:-18}]},
 {title:'PCB 138', tx:612, ty:327, ax:446, rx:780, top:349, y0:520, ymax:111.5, step:15,
  series:[{d:pcb138Gesamt,s:'grey'}], lines:[{v:uswPcb138,dash:dashL,w:4.5,label:'USW',lx:312,dy:-22}]},
 {title:'PCB 180', tx:610, ty:569, ax:446, rx:780, top:596, y0:770, ymax:100.4, step:15,
  series:[{d:pcb180Gesamt,s:'grey'}], lines:[{v:uswPcb180,dash:dashL,w:4.5,label:'USW',lx:309,dy:-22}]},
 {title:'p,p`-DDE', tx:618, ty:812, ax:446, rx:780, top:834, y0:1257, ymax:71.2, step:10, padR:48,
  series:[{d:ppDDE,s:'grey'}], lines:[
    {v:ermDDE,w:3,label:'ERM',lx:304,dy:-15},
    {v:oswDDE,dash:dashS,w:2.5,label:'OSW',lx:305,dy:-16},
    {v:erlDDE,w:2.5,label:'ERL',lx:359,dy:-3},
    {v:uswDDE,dash:dashS,w:2.5,label:'USW',lx:307,dy:15}]},
 {title:'PeCB', tx:618, ty:1298, ax:446, rx:780, top:1312, y0:1481, ymax:420, step:100,
  series:[{d:pecbGesamt,s:'grey'}], lines:[{v:oswPeCB,w:3.5,label:'OSW',lx:308,dy:15}]},

 {ax:869, rx:1200, top:125, y0:289, ymax:20.6, step:5,
  series:[{d:pcb28Fein,s:'blue',o:3},{d:pcb52Fein,s:'black',o:2},{d:pcb180Fein,s:'pink',o:1}],
  lines:[{v:oswPcbFein,w:3,label:'OSW',lx:308,dy:11}]},
 {ax:869, rx:1200, top:347, y0:521, ymax:36.25, step:5,
  series:[{d:pcb101Fein,s:'blue',o:4},{d:pcb118Fein,s:'black',o:3},{d:pcb138Fein,s:'orange',o:2},{d:pcb153Fein,s:'green',o:1}],
  lines:[{v:oswPcbFein,w:3,label:'OSW',lx:228,dy:-15}]},
 {title:'α-HCH', tx:1038, ty:569, ax:869, rx:1200, top:590, y0:769, ymax:11, step:2,
  series:[{d:alphaHCH,s:'grey'}], lines:[{v:oswAlphaHCH,w:2.5,label:'OSW',lx:107,dy:-20},{v:uswAlphaHCH,w:2.5,label:'USW',lx:266,dy:17}]},
 {title:'γ-HCH', tx:1032, ty:812, ax:869, rx:1200, top:835, y0:1018, ymax:4.11, step:1,
  series:[{d:gammaHCH,s:'grey'}], lines:[{v:oswGammaHCH,w:2.5,label:'OSW',lx:297,dy:-14},{v:uswGammaHCH,w:2.5,label:'USW',lx:297,dy:-13}]},
 {title:"p,p'-DDT", tx:1031, ty:1058, ax:869, rx:1200, top:1063, y0:1250, ymax:221, step:50,
  series:[{d:ppDDT,s:'grey'}], lines:[{v:oswUswDDT,w:3,label:'OSW/ USW',lx:283,dy:18}]},
 {title:'PeCB', tx:1025, ty:1296, ax:869, rx:1200, top:1311, y0:1488, ymax:8.14, step:2,
  series:[{d:pecbFein,s:'grey'}], lines:[{v:uswPeCBFein,w:2.5,label:'USW',lx:267,dy:14}]}
];

const refLabels = {
  id:'refLabels',
  afterDatasetsDraw(chart, args, opts){
    const {ctx, chartArea, scales} = chart;
    ctx.save();
    ctx.font = 'bold 17px ' + FONT;
    ctx.fillStyle = '#111';
    ctx.textAlign = 'center';
    ctx.textBaseline = 'middle';
    (opts.items||[]).forEach(l=>{
      if(!l.label) return;
      ctx.fillText(l.label, chartArea.left + l.lx, scales.y.getPixelForValue(l.v) + l.dy);
    });
    ctx.restore();
  }
};

function pts(arr){
  const out=[];
  arr.forEach((e,i)=>{(Array.isArray(e)?e:[e]).forEach(v=>out.push({x:i,y:v}));});
  return out;
}

function addText(cls, x, y, html){
  const d=document.createElement('div'); d.className=cls; d.style.left=x+'px'; d.style.top=y+'px'; d.innerHTML=html; document.body.appendChild(d);
}

panels.forEach(p=>{
  const axW=50, padT=22, padB=30, padR=p.padR||12;
  const w=p.rx-p.ax+axW+padR, h=p.y0-p.top+padT+padB;
  const cv=document.createElement('canvas');
  cv.width=w; cv.height=h;
  cv.style.left=(p.ax-axW)+'px'; cv.style.top=(p.top-padT)+'px';
  cv.style.width=w+'px'; cv.style.height=h+'px';
  document.body.appendChild(cv);
  if(p.title) addText('t', p.tx, p.ty, p.title);
  const n=Math.max(...p.series.map(s=>s.d.length));
  const ds=[];
  p.series.forEach((s,i)=>{
    const st=styles[s.s];
    ds.push({data:pts(s.d), showLine:false, clip:false, order:s.o||i+1,
      pointStyle:st.ps, pointRadius:st.r, pointHoverRadius:st.r,
      pointBackgroundColor:st.bg, pointBorderColor:st.bc, pointBorderWidth:st.bw,
      backgroundColor:st.bg, borderColor:st.bc});
  });
  p.lines.forEach(l=>{
    ds.push({data:[{x:-1,y:l.v},{x:n,y:l.v}], showLine:true, borderColor:'#000', borderWidth:l.w,
      borderDash:l.dash||[], pointRadius:0, fill:false, clip:false, order:-1});
  });
  new Chart(cv,{
    type:'scatter',
    data:{datasets:ds},
    options:{
      responsive:false, animation:false, devicePixelRatio:1, events:[],
      layout:{padding:{top:padT,bottom:padB,left:0,right:padR}},
      plugins:{legend:{display:false}, tooltip:{enabled:false}, title:{display:false}, refLabels:{items:p.lines}},
      scales:{
        x:{type:'linear', display:false, min:-1, max:n},
        y:{min:0, max:p.ymax,
           afterFit(s){s.width=axW;},
           afterBuildTicks(s){s.ticks=s.ticks.filter(t=>Math.abs(t.value/p.step-Math.round(t.value/p.step))<1e-6);},
           ticks:{stepSize:p.step, includeBounds:false, autoSkip:false, padding:11, color:'#1c1c1c', font:{family:FONT, size:15.5}},
           grid:{color:'#bdbdbd', lineWidth:1, drawTicks:false},
           border:{color:'#9a9a9a', width:1}}
      }
    },
    plugins:[refLabels]
  });
});

// legends of the Feinfraktion PCB panels
function marker(x,y,css){const d=document.createElement('div');d.className='mk';d.style.left=x+'px';d.style.top=y+'px';d.style.cssText+=css;document.body.appendChild(d);}
addText('t',896,92,'PCB');
marker(964,86,'width:6px;height:6px;transform:rotate(45deg);background:#8fd3f2;border:1.5px solid #1e9ad8;');
addText('t',993,92,'28');
marker(1039,88,'width:4px;height:4px;border-radius:50%;background:#111;');
addText('t',1066,92,'52');
addText('t',1114,89,'<span style="color:#f0489a;font-size:15px;font-weight:normal">×</span>');
addText('t',1147,92,'180');

addText('t',896,325,'PCB');
marker(936,318,'width:6px;height:6px;transform:rotate(45deg);background:#8fd3f2;border:1.5px solid #1e9ad8;');
addText('t',970,325,'101');
marker(1005,320,'width:4px;height:4px;border-radius:50%;background:#111;');
addText('t',1037,325,'118');
marker(1072,318,'width:6px;height:6px;background:#f47a3c;');
addText('t',1105,325,'138');
addText('t',1145,321,'<span style="color:#27b67c;font-size:15px;font-weight:normal">×</span>');
addText('t',1177,325,'153');
</script>
</body></html>
